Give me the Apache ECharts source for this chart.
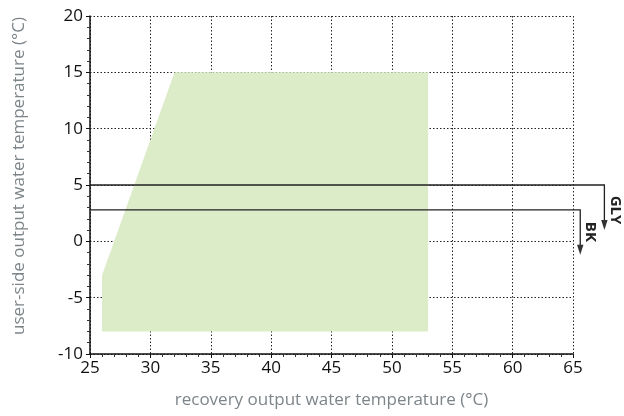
<!DOCTYPE html>
<html>
<head>
<meta charset="utf-8">
<script src="https://cdn.jsdelivr.net/npm/echarts@6/dist/echarts.min.js"></script>
<style>
  html, body { margin: 0; padding: 0; background: #fff; }
  #chart { width: 624px; height: 416px; }
</style>
</head>
<body>
<div id="chart"></div>
<script>
// operating envelope (recovery temp, user-side temp)
const envelope = [[26, -8], [26, -3], [32, 15], [53, 15], [53, -8]];

// limit lines: start, corner, arrow tip
const gly = [[25, 5], [67.6, 5], [67.6, 1]];
const bk = [[25, 2.8], [65.6, 2.8], [65.6, -1.2]];

const xTicks = [25, 30, 35, 40, 45, 50, 55, 60, 65];
const yTicks = [-10, -5, 0, 5, 10, 15, 20];

const font = '"Open Sans", "DejaVu Sans", sans-serif';
const chart = echarts.init(document.getElementById('chart'));

// polyline ending in an arrowhead, drawn outside the grid too
function limitLine(name, pts, labelShift) {
    return {
        name: name,
        type: 'custom',
        coordinateSystem: 'cartesian2d',
        clip: false,
        data: [0],
        z: 5,
        renderItem: (params, api) => {
            const p = pts.map(d => api.coord(d));
            const tip = p[p.length - 1];
            const head = 10, half = 3.2;
            const shaft = p.slice(0, -1).concat([[tip[0], tip[1] - head + 1]]);
            return {
                type: 'group',
                children: [{
                    type: 'polyline',
                    shape: {points: shaft},
                    style: {stroke: '#222', lineWidth: 1.3, fill: null}
                }, {
                    type: 'polygon',
                    shape: {points: [[tip[0] - half, tip[1] - head], [tip[0] + half, tip[1] - head], tip]},
                    style: {fill: '#333'}
                }, {
                    type: 'text',
                    x: tip[0] + labelShift[0],
                    y: tip[1] + labelShift[1],
                    rotation: -Math.PI / 2,
                    style: {
                        text: name,
                        font: 'bold 15px ' + font,
                        fill: '#222',
                        align: 'center',
                        verticalAlign: 'middle'
                    }
                }]
            };
        }
    };
}

const option = {
    backgroundColor: '#fff',
    animation: false,
    grid: {left: 90, right: 51, top: 16, bottom: 62, show: false},
    xAxis: {
        type: 'value',
        min: xTicks[0],
        max: xTicks[xTicks.length - 1],
        interval: 5,
        name: 'recovery output water temperature (°C)',
        nameLocation: 'middle',
        nameGap: 38,
        nameTextStyle: {color: '#7d8589', fontSize: 17, fontFamily: font},
        axisLine: {show: true, onZero: false, lineStyle: {color: '#111', width: 1.5}},
        axisTick: {show: true, length: 4, lineStyle: {color: '#111'}},
        minorTick: {show: true, splitNumber: 5, length: 3, lineStyle: {color: '#333'}},
        axisLabel: {color: '#111', fontSize: 17, fontFamily: font, margin: 6},
        splitLine: {show: true, lineStyle: {color: '#222', type: [1.5, 2], width: 1}}
    },
    yAxis: {
        type: 'value',
        min: yTicks[0],
        max: yTicks[yTicks.length - 1],
        interval: 5,
        name: 'user-side output water temperature (°C)',
        nameLocation: 'middle',
        nameGap: 62,
        nameTextStyle: {color: '#7d8589', fontSize: 17, fontFamily: font, padding: [0, 0, 0, 18]},
        axisLine: {show: true, onZero: false, lineStyle: {color: '#111', width: 1.5}},
        axisTick: {show: true, length: 4, lineStyle: {color: '#111'}},
        minorTick: {show: true, splitNumber: 5, length: 3, lineStyle: {color: '#333'}},
        axisLabel: {color: '#111', fontSize: 17, fontFamily: font, margin: 7},
        splitLine: {show: true, lineStyle: {color: '#222', type: [1.5, 2], width: 1}}
    },
    series: [{
        name: 'envelope',
        type: 'line',
        data: envelope.concat([envelope[0]]),
        symbol: 'none',
        lineStyle: {width: 0},
        areaStyle: {color: '#dcebc8', opacity: 1, origin: 'start'},
        z: 1
    },
        limitLine('GLY', gly, [11, -20]),
        limitLine('BK', bk, [10, -23])
    ]
};

chart.setOption(option);
</script>
</body>
</html>
